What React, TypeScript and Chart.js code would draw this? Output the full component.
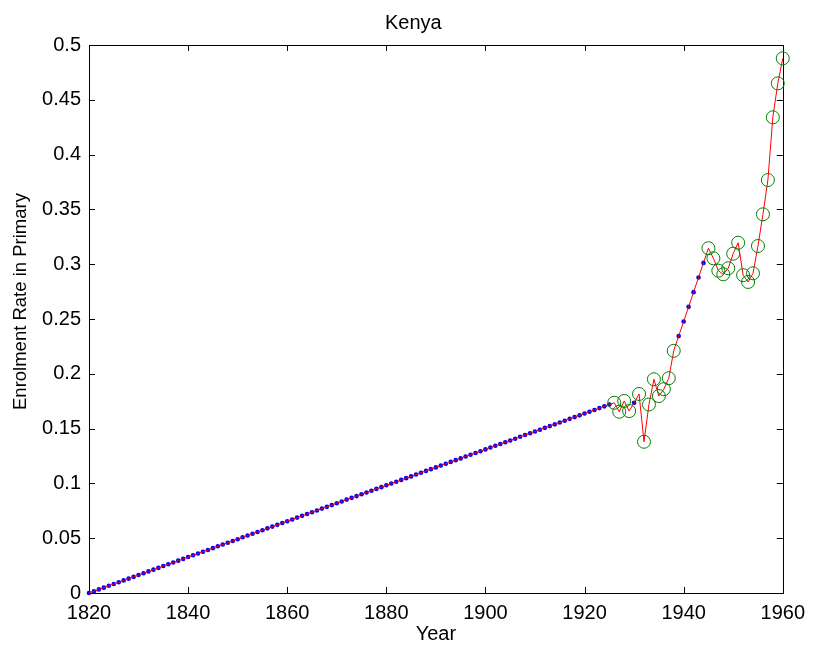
import React, { useEffect, useRef } from 'react';
import { Chart, registerables } from 'chart.js';

Chart.register(...registerables);

const chartTitle = 'Kenya';
const xAxisLabel = 'Year';
const yAxisLabel = 'Enrolment Rate in Primary';

const xTicks = [1820, 1840, 1860, 1880, 1900, 1920, 1940, 1960];
const xTickLabels = ['1820', '1840', '1860', '1880', '1900', '1920', '1940', '1960'];
const yTicks = [0, 0.05, 0.1, 0.15, 0.2, 0.25, 0.3, 0.35, 0.4, 0.45, 0.5];
const yTickLabels = ['0', '0.05', '0.1', '0.15', '0.2', '0.25', '0.3', '0.35', '0.4', '0.45', '0.5'];

// Observed values (green circles)
const observedYears = [
  1926, 1927, 1928, 1929, 1931, 1932, 1933, 1934, 1935, 1936, 1937, 1938,
  1945, 1946, 1947, 1948, 1949, 1950, 1951, 1952, 1953, 1954, 1955, 1956,
  1957, 1958, 1959, 1960,
];
const observedValues = [
  0.1736, 0.1654, 0.1752, 0.166, 0.1816, 0.138, 0.172, 0.195, 0.1797, 0.186, 0.196, 0.221,
  0.3146, 0.3054, 0.2941, 0.2908, 0.2963, 0.3096, 0.3196, 0.29, 0.2838, 0.2917, 0.3166, 0.3455,
  0.3768, 0.434, 0.465, 0.4878,
];

// Filled-in values (blue dots)
const filledYears = [
  1820, 1821, 1822, 1823, 1824, 1825, 1826, 1827, 1828, 1829,
  1830, 1831, 1832, 1833, 1834, 1835, 1836, 1837, 1838, 1839,
  1840, 1841, 1842, 1843, 1844, 1845, 1846, 1847, 1848, 1849,
  1850, 1851, 1852, 1853, 1854, 1855, 1856, 1857, 1858, 1859,
  1860, 1861, 1862, 1863, 1864, 1865, 1866, 1867, 1868, 1869,
  1870, 1871, 1872, 1873, 1874, 1875, 1876, 1877, 1878, 1879,
  1880, 1881, 1882, 1883, 1884, 1885, 1886, 1887, 1888, 1889,
  1890, 1891, 1892, 1893, 1894, 1895, 1896, 1897, 1898, 1899,
  1900, 1901, 1902, 1903, 1904, 1905, 1906, 1907, 1908, 1909,
  1910, 1911, 1912, 1913, 1914, 1915, 1916, 1917, 1918, 1919,
  1920, 1921, 1922, 1923, 1924, 1925,
  1930,
  1939, 1940, 1941, 1942, 1943, 1944,
];
const filledValues = [
  0, 0.0016, 0.0033, 0.0049, 0.0066, 0.0082, 0.0098, 0.0115, 0.0131, 0.0147,
  0.0164, 0.018, 0.0197, 0.0213, 0.0229, 0.0246, 0.0262, 0.0278, 0.0295, 0.0311,
  0.0328, 0.0344, 0.036, 0.0377, 0.0393, 0.0409, 0.0426, 0.0442, 0.0459, 0.0475,
  0.0491, 0.0508, 0.0524, 0.054, 0.0557, 0.0573, 0.059, 0.0606, 0.0622, 0.0639,
  0.0655, 0.0671, 0.0688, 0.0704, 0.0721, 0.0737, 0.0753, 0.077, 0.0786, 0.0802,
  0.0819, 0.0835, 0.0852, 0.0868, 0.0884, 0.0901, 0.0917, 0.0933, 0.095, 0.0966,
  0.0983, 0.0999, 0.1015, 0.1032, 0.1048, 0.1064, 0.1081, 0.1097, 0.1114, 0.113,
  0.1146, 0.1163, 0.1179, 0.1196, 0.1212, 0.1228, 0.1245, 0.1261, 0.1277, 0.1294,
  0.131, 0.1327, 0.1343, 0.1359, 0.1376, 0.1392, 0.1408, 0.1425, 0.1441, 0.1458,
  0.1474, 0.149, 0.1507, 0.1523, 0.1539, 0.1556, 0.1572, 0.1589, 0.1605, 0.1621,
  0.1638, 0.1654, 0.167, 0.1687, 0.1703, 0.172,
  0.1735,
  0.2344, 0.2477, 0.2611, 0.2745, 0.2879, 0.3012,
];

const FONT = '"Liberation Sans", Arial, Helvetica, sans-serif';
const FONT_SIZE = 20;

const matlabAxes = {
  id: 'matlabAxes',
  beforeDatasetsDraw(chart: any) {
    const { ctx, chartArea, scales } = chart;
    const { left, right, top, bottom } = chartArea;
    ctx.save();
    ctx.strokeStyle = '#000';
    ctx.lineWidth = 1;
    ctx.beginPath();
    const tl = 6;
    xTicks.forEach((v) => {
      const x = Math.round(scales.x.getPixelForValue(v)) + 0.5;
      ctx.moveTo(x, bottom);
      ctx.lineTo(x, bottom - tl);
      ctx.moveTo(x, top);
      ctx.lineTo(x, top + tl);
    });
    yTicks.forEach((v) => {
      const y = Math.round(scales.y.getPixelForValue(v)) + 0.5;
      ctx.moveTo(left, y);
      ctx.lineTo(left + tl, y);
      ctx.moveTo(right, y);
      ctx.lineTo(right - tl, y);
    });
    ctx.stroke();
    ctx.strokeRect(Math.round(left) + 0.5, Math.round(top) + 0.5, Math.round(right - left), Math.round(bottom - top));
    ctx.restore();
  },
  afterDraw(chart: any) {
    const { ctx } = chart;
    ctx.save();
    ctx.fillStyle = '#000';
    // Title
    ctx.font = `${FONT_SIZE}px ${FONT}`;
    ctx.textAlign = 'left';
    ctx.textBaseline = 'alphabetic';
    ctx.fillText(chartTitle, 385, 29);
    // Y axis label
    ctx.font = `18.5px ${FONT}`;
    ctx.translate(26, 410);
    ctx.rotate(-Math.PI / 2);
    ctx.textAlign = 'left';
    ctx.textBaseline = 'alphabetic';
    ctx.fillText(yAxisLabel, 0, 0);
    ctx.restore();
  },
};

export default function App() {
  const canvasRef = useRef<HTMLCanvasElement | null>(null);

  useEffect(() => {
    const canvas = canvasRef.current;
    if (!canvas) return;

    const lineData = [
      ...filledYears.map((x, i) => ({ x, y: filledValues[i] })),
      ...observedYears.map((x, i) => ({ x, y: observedValues[i] })),
    ].sort((a, b) => a.x - b.x);

    const chart = new Chart(canvas, {
      type: 'line',
      data: {
        datasets: [
          {
            label: 'observed',
            data: observedYears.map((x, i) => ({ x, y: observedValues[i] })),
            showLine: false,
            pointStyle: 'circle',
            pointRadius: 6.5,
            pointBorderWidth: 1,
            pointBorderColor: 'rgb(0,128,0)',
            pointBackgroundColor: 'rgba(0,0,0,0)',
            order: 0,
            clip: false,
          },
          {
            label: 'line',
            data: lineData,
            borderColor: 'rgb(255,0,0)',
            borderWidth: 1,
            pointRadius: 0,
            tension: 0,
            order: 1,
            clip: false,
          },
          {
            label: 'filled',
            data: filledYears.map((x, i) => ({ x, y: filledValues[i] })),
            showLine: false,
            pointStyle: 'circle',
            pointRadius: 2.3,
            pointBorderWidth: 0,
            pointBackgroundColor: 'rgb(0,0,255)',
            pointBorderColor: 'rgb(0,0,255)',
            order: 2,
            clip: false,
          },
        ],
      },
      options: {
        animation: false,
        responsive: true,
        maintainAspectRatio: false,
        layout: { padding: { left: 0, right: 28, top: 45, bottom: 0 } },
        plugins: {
          legend: { display: false },
          tooltip: { enabled: false },
          title: { display: false },
        },
        scales: {
          x: {
            type: 'linear',
            min: 1820,
            max: 1960,
            grid: { display: false, drawTicks: false },
            border: { display: false },
            afterBuildTicks: (scale: any) => {
              scale.ticks = xTicks.map((v) => ({ value: v }));
            },
            afterFit: (scale: any) => {
              scale.height = 60;
            },
            ticks: {
              color: '#000',
              padding: 8,
              maxRotation: 0,
              autoSkip: false,
              font: { family: FONT, size: FONT_SIZE },
              callback: (_v: any, i: number) => xTickLabels[i],
            },
            title: {
              display: true,
              text: xAxisLabel,
              color: '#000',
              font: { family: FONT, size: FONT_SIZE },
              padding: { top: 0, bottom: 7 },
            },
          },
          y: {
            type: 'linear',
            min: 0,
            max: 0.5,
            grid: { display: false, drawTicks: false },
            border: { display: false },
            afterBuildTicks: (scale: any) => {
              scale.ticks = yTicks.map((v) => ({ value: v }));
            },
            afterFit: (scale: any) => {
              scale.width = 89;
            },
            ticks: {
              color: '#000',
              padding: 8,
              autoSkip: false,
              font: { family: FONT, size: FONT_SIZE },
              callback: (_v: any, i: number) => yTickLabels[i],
            },
            title: { display: false, text: yAxisLabel },
          },
        },
      },
      plugins: [matlabAxes],
    });

    return () => chart.destroy();
  }, []);

  return (
    <div style={{ position: 'fixed', left: 0, top: 0, width: 813, height: 653, background: '#fff' }}>
      <canvas ref={canvasRef} />
    </div>
  );
}
